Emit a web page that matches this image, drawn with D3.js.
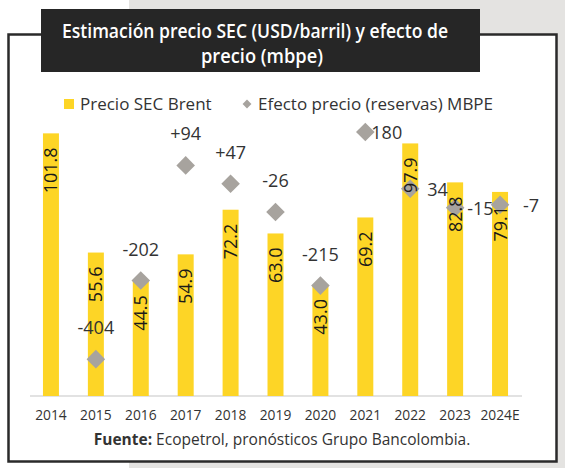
<!DOCTYPE html>
<html><head><meta charset="utf-8">
<script src="https://cdn.jsdelivr.net/npm/d3@7"></script>
<style>html,body{margin:0;padding:0;background:#fff;}svg{display:block;font-family:"Open Sans",sans-serif;}</style>
</head><body>
<svg id="c" width="565" height="468"></svg>
<script>
const categories = ["2014","2015","2016","2017","2018","2019","2020","2021","2022","2023","2024E"];
const precioSEC = [101.8,55.6,44.5,54.9,72.2,63.0,43.0,69.2,97.9,82.8,79.1];
const efectoPrecio = [null,-404,-202,94,47,-26,-215,180,34,-15,-7];
const efectoLabels = ["","-404","-202","+94","+47","-26","-215","180","34","-15","-7"];
const efectoLabelSide = ["","top","top","top","top","top","top","right","right","right","right"];
const titleLines = ["Estimación precio SEC (USD/barril) y efecto de","precio (mbpe)"];
const legendNames = ["Precio SEC Brent","Efecto precio (reservas) MBPE"];

const svg = d3.select("#c");
// background
svg.append("rect").attr("x",0).attr("y",0).attr("width",565).attr("height",468).attr("fill","#fff");
svg.append("rect").attr("x",129).attr("y",0).attr("width",436).attr("height",468).attr("fill","#e4e3e1");
svg.append("rect").attr("x",8.5).attr("y",34.5).attr("width",548).attr("height",427)
  .attr("fill","#fff").attr("stroke","#2a2a2a").attr("stroke-width",2.5);
// title box
svg.append("rect").attr("x",41).attr("y",9).attr("width",439).attr("height",63).attr("fill","#262626");
svg.append("text").attr("x",255).attr("y",38).attr("text-anchor","middle").attr("fill","#fff")
  .attr("font-size",20).attr("font-weight",600).attr("textLength",386).attr("lengthAdjust","spacingAndGlyphs")
  .text(titleLines[0]);
svg.append("text").attr("x",262).attr("y",63).attr("text-anchor","middle").attr("fill","#fff")
  .attr("font-size",20).attr("font-weight",600).attr("textLength",122).attr("lengthAdjust","spacingAndGlyphs")
  .text(titleLines[1]);

const yellow = "#fdd526", gray = "#a7a39e";
// legend
const lg = svg.append("g");
lg.append("rect").attr("x",64).attr("y",99).attr("width",10).attr("height",10).attr("fill",yellow);
lg.append("text").attr("x",80).attr("y",110).attr("font-size",17).attr("fill","#333").text(legendNames[0]);
lg.append("path").attr("d",d3.symbol(d3.symbolDiamond2,50)()).attr("transform","translate(247,104)").attr("fill",gray);
lg.append("text").attr("x",258).attr("y",110).attr("font-size",17).attr("fill","#333").text(legendNames[1]);

const x = d3.scaleBand().domain(categories).range([28.5,522.5]).paddingInner(0.644).paddingOuter(0.322);
const y = d3.scaleLinear().domain([0,120]).range([396,396-120*2.58]);
const y2 = d3.scaleLinear().domain([-500,250]).range([396.5,104.7]);

// axis
const ax = svg.append("g").attr("transform","translate(0,396)")
  .call(d3.axisBottom(x).tickSize(0).tickPadding(0));
ax.select(".domain").attr("stroke","#d9d9d9").attr("stroke-width",1.5).attr("d","M30,0H522");
ax.selectAll("text").attr("y",24).attr("dy",0).attr("font-size",13.8).attr("fill","#333").attr("font-family","'Open Sans',sans-serif");

// bars
svg.append("g").selectAll("rect").data(precioSEC).join("rect")
  .attr("x",(d,i)=>x(categories[i])).attr("width",x.bandwidth())
  .attr("y",d=>y(d)).attr("height",d=>y(0)-y(d)).attr("fill",yellow);

// diamonds
const pts = efectoPrecio.map((v,i)=>({v,i})).filter(d=>d.v!==null);
svg.append("g").selectAll("path").data(pts).join("path")
  .attr("d",d3.symbol(d3.symbolDiamond2,220)())
  .attr("transform",d=>`translate(${x(categories[d.i])+x.bandwidth()/2},${y2(d.v)})`)
  .attr("fill",gray);

// diamond labels
const rightDx = {"2021":6,"2022":17,"2023":12,"2024E":23};
svg.append("g").selectAll("text").data(pts).join("text")
  .attr("font-size",18).attr("fill","#333")
  .attr("text-anchor",d=>efectoLabelSide[d.i]==="top"?"middle":"start")
  .attr("x",d=>{const cx=x(categories[d.i])+x.bandwidth()/2; return efectoLabelSide[d.i]==="top"?cx:cx+rightDx[categories[d.i]];})
  .attr("y",d=>efectoLabelSide[d.i]==="top"?y2(d.v)-25:y2(d.v)+7)
  .text(d=>efectoLabels[d.i]);

// bar labels
svg.append("g").selectAll("text").data(precioSEC).join("text")
  .attr("transform",(d,i)=>`translate(${x(categories[i])+x.bandwidth()/2},${y(d)}) rotate(-90)`)
  .attr("x",-14).attr("dy","0.36em").attr("text-anchor","end")
  .attr("font-size",18).attr("fill","#1a1a1a")
  .text(d=>d.toFixed(1));

// source
const src = svg.append("text").attr("x",282).attr("y",445).attr("text-anchor","middle").attr("font-size",15.5).attr("fill","#333");
src.append("tspan").attr("font-weight",700).text("Fuente:");
src.append("tspan").text(" Ecopetrol, pronósticos Grupo Bancolombia.");
</script>
</body></html>
